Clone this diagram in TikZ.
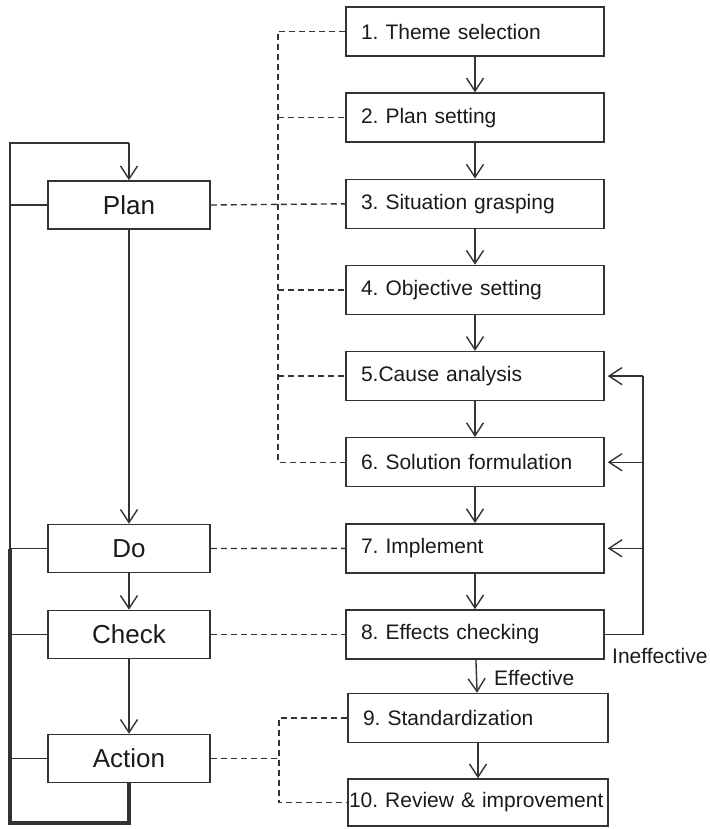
\documentclass[tikz,border=0pt]{standalone}
\usepackage{fontspec}
\setmainfont{Liberation Sans}
\usetikzlibrary{arrows.meta}
\definecolor{ln}{HTML}{333333}
\definecolor{tx}{HTML}{1A1A1A}
\frenchspacing
\begin{document}
\begin{tikzpicture}[x=1pt,y=-1pt,
  rbox/.style={draw=ln, line width=1.5pt, minimum height=49pt, text width=228pt, inner xsep=15pt, inner ysep=0pt, align=left, font=\fontsize{21}{25}\selectfont\frenchspacing, text=tx},
  lbox/.style={draw=ln, line width=1.5pt, minimum width=162pt, minimum height=48pt, inner sep=0pt, font=\fontsize{26}{30}\selectfont, text=tx},
  lbl/.style={inner sep=0pt, font=\fontsize{21}{25}\selectfont, text=tx},
  arr/.style={-{Straight Barb[length=13pt,width=17pt]}, line width=1.4pt, draw=ln},
  conn/.style={line width=1.4pt, draw=ln},
  thk/.style={line width=3.4pt, draw=ln, line join=miter},
  dsh/.style={line width=1.4pt, draw=ln, dash pattern=on 6pt off 4pt}]
\useasboundingbox (0,0) rectangle (709,829);
% right column
\node[rbox] (r1) at (475,31.5) {1. Theme selection};
\node[rbox] (r2) at (475,117.6) {2. Plan setting};
\node[rbox] (r3) at (475,203.8) {3. Situation grasping};
\node[rbox] (r4) at (475,289.9) {4. Objective setting};
\node[rbox] (r5) at (475,376.1) {5.Cause analysis};
\node[rbox] (r6) at (475,462.2) {6. Solution formulation};
\node[rbox] (r7) at (475,548.3) {7. Implement};
\node[rbox] (r8) at (475,634.5) {8. Effects checking};
\node[rbox, text width=230pt, inner xsep=15pt] (r9) at (478,718) {9. Standardization};
\node[rbox, text width=258pt, inner xsep=1pt, minimum height=47pt] (r10) at (478,802.5) {10. Review \& improvement};
% left column
\node[lbox] (plan) at (129,205) {Plan};
\node[lbox] (do) at (129,548.5) {Do};
\node[lbox] (check) at (129,634.5) {Check};
\node[lbox] (action) at (129,758.5) {Action};
% labels
\node[lbl, anchor=west] (eff) at (494,678) {Effective};
\node[lbl, anchor=west] (ineff) at (612,656) {Ineffective};
% right arrows
\draw[arr] (r1) -- (r2);
\draw[arr] (r2) -- (r3);
\draw[arr] (r3) -- (r4);
\draw[arr] (r4) -- (r5);
\draw[arr] (r5) -- (r6);
\draw[arr] (r6) -- (r7);
\draw[arr] (r7) -- (r8);
\draw[arr] (r8) -- (r9);
\draw[arr] (r9) -- (r10);
% left arrows
\draw[arr] (plan) -- (do);
\draw[arr] (do) -- (check);
\draw[arr] (check) -- (action);
% loop
\coordinate (L) at (10,143);
\coordinate (B) at (10,823);
\draw[arr] (L -| plan.north) -- (plan.north);
\draw[conn] (L |- do.west) -- (L) -- (L -| plan.north);
\draw[thk] (L |- do.west) -- (B) -- (B -| action.south) -- (action.south);
\draw[conn] (L |- plan.west) -- (plan.west);
\draw[conn] (L |- do.west) -- (do.west);
\draw[conn] (L |- check.west) -- (check.west);
\draw[conn] (L |- action.west) -- (action.west);
% dashed
\coordinate (J) at (278,0);
\draw[dsh] (plan.east) -- (r3.west);
\draw[dsh] (r1.west) -- (J |- r1.west) -- (J |- r6.west) -- (r6.west);
\draw[dsh] (J |- r2.west) -- (r2.west);
\draw[dsh] (J |- r4.west) -- (r4.west);
\draw[dsh] (J |- r5.west) -- (r5.west);
\draw[dsh] (do.east) -- (r7.west);
\draw[dsh] (check.east) -- (r8.west);
\coordinate (K) at (279,0);
\draw[dsh] (r9.west) -- (K |- r9.west) -- (K |- r10.west) -- (r10.west);
\draw[dsh] (action.east) -- (K |- action.east);
% feedback
\coordinate (F) at (643,0);
\draw[conn] (r8.east) -- (F |- r8.east) -- (F |- r5.east);
\draw[arr, shorten >=3pt] (F |- r5.east) -- (r5.east);
\draw[arr, shorten >=3pt] (F |- r6.east) -- (r6.east);
\draw[arr, shorten >=3pt] (F |- r7.east) -- (r7.east);
\end{tikzpicture}
\end{document}
